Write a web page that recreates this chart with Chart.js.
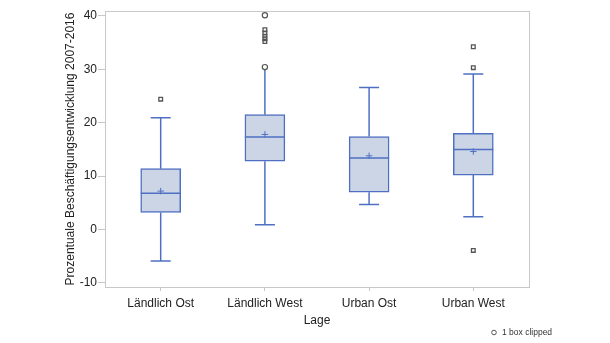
<!DOCTYPE html>
<html><head><meta charset="utf-8">
<script src="https://cdn.jsdelivr.net/npm/chart.js@4.4.1/dist/chart.umd.min.js"></script>
<style>html,body{margin:0;padding:0;background:#fff}#wrap{width:610px;height:343px}</style>
</head><body><div id="wrap"><canvas id="c" width="610" height="343"></canvas></div>
<script>
const categories = ['Ländlich Ost', 'Ländlich West', 'Urban Ost', 'Urban West'];
const q1 = [3.2, 12.8, 7.0, 10.2];
const median = [6.8, 17.3, 13.4, 15.0];
const q3 = [11.4, 21.5, 17.4, 18.0];
const mean = [7.2, 17.8, 13.8, 14.6];
const whiskerLow = [-5.9, 0.9, 4.7, 2.4];
const whiskerHigh = [20.9, 30.4, 26.6, 29.1];
const clippedHigh = [false, true, false, false];
const outliers = [[24.4], [37.4, 36.8, 36.2, 35.7, 35.2], [], [34.2, 30.3, -3.9]];
const farOutliers = [[], [40.1, 30.4], [], []];
const yTicks = [-10, 0, 10, 20, 30, 40];
const yTitle = 'Prozentuale Beschäftigungsentwicklung 2007-2016';
const xTitle = 'Lage';
const noteText = '1 box clipped';

const BLUE = '#4f70c2';
const FILL = '#cbd5e6';
const GREY = '#555555';
const HALF_BOX = 0.192;
const HALF_CAP = 0.096;
const FONT = '"Liberation Sans", Arial, sans-serif';

const boxData = categories.map((c, i) => ({x: i + 1, y: [q1[i], q3[i]]}));
const whiskers = [];
const caps = [];
const medians = [];
categories.forEach((c, i) => {
  const x = i + 1;
  whiskers.push({x, y: q3[i]}, {x, y: whiskerHigh[i]}, {x, y: null});
  whiskers.push({x, y: q1[i]}, {x, y: whiskerLow[i]}, {x, y: null});
  if (!clippedHigh[i]) caps.push({x: x - HALF_CAP, y: whiskerHigh[i]}, {x: x + HALF_CAP, y: whiskerHigh[i]}, {x, y: null});
  caps.push({x: x - HALF_CAP, y: whiskerLow[i]}, {x: x + HALF_CAP, y: whiskerLow[i]}, {x, y: null});
  medians.push({x: x - HALF_BOX, y: median[i]}, {x: x + HALF_BOX, y: median[i]}, {x, y: null});
});
const meanPts = mean.map((v, i) => ({x: i + 1, y: v}));
const outPts = [];
outliers.forEach((arr, i) => arr.forEach(v => outPts.push({x: i + 1, y: v})));
const farPts = [];
farOutliers.forEach((arr, i) => arr.forEach(v => farPts.push({x: i + 1, y: v})));

const framePlugin = {
  id: 'frame',
  afterDraw(chart) {
    const {ctx, chartArea: a} = chart;
    ctx.save();
    ctx.strokeStyle = '#c8c8c8';
    ctx.lineWidth = 1;
    ctx.strokeRect(Math.round(a.left) + 0.5, Math.round(a.top) + 0.5, Math.round(a.right - a.left), Math.round(a.bottom - a.top));
    ctx.strokeStyle = GREY;
    ctx.lineWidth = 1;
    ctx.beginPath();
    ctx.arc(494, 332.5, 2.3, 0, Math.PI * 2);
    ctx.stroke();
    ctx.fillStyle = '#333';
    ctx.font = '8.5px ' + FONT;
    ctx.textBaseline = 'middle';
    ctx.fillText(noteText, 502, 333);
    ctx.restore();
  }
};

new Chart(document.getElementById('c'), {
  type: 'bar',
  data: {
    datasets: [
      {type: 'scatter', data: whiskers, showLine: true, borderColor: BLUE, borderWidth: 1.5, pointRadius: 0, spanGaps: false, order: 2},
      {type: 'scatter', data: caps, showLine: true, borderColor: BLUE, borderWidth: 1.5, pointRadius: 0, spanGaps: false, order: 2},
      {type: 'bar', data: boxData, backgroundColor: FILL, borderColor: BLUE, borderWidth: 1.5, borderSkipped: false, barThickness: 40, order: 1},
      {type: 'scatter', data: medians, showLine: true, borderColor: BLUE, borderWidth: 1.5, pointRadius: 0, spanGaps: false, order: 0},
      {type: 'scatter', data: meanPts, pointStyle: 'cross', pointRadius: 3.2, borderColor: BLUE, borderWidth: 1, order: 0},
      {type: 'scatter', data: outPts, pointStyle: 'rect', pointRadius: 2.6, borderColor: GREY, backgroundColor: 'rgba(0,0,0,0)', borderWidth: 1.3, order: 0},
      {type: 'scatter', data: farPts, pointStyle: 'circle', pointRadius: 2.6, borderColor: GREY, backgroundColor: '#fff', borderWidth: 1.2, order: 0}
    ]
  },
  options: {
    responsive: false,
    animation: false,
    layout: {padding: {top: 11, right: 81, left: 63, bottom: 15}},
    plugins: {legend: {display: false}, tooltip: {enabled: false}},
    scales: {
      x: {
        type: 'linear', min: 0.4655, max: 4.5345, offset: false,
        afterBuildTicks: s => { s.ticks = categories.map((c, i) => ({value: i + 1})); },
        afterFit: s => { s.height = 41; },
        grid: {drawOnChartArea: false, drawTicks: true, tickLength: 4, color: '#c8c8c8', offset: false},
        border: {display: false},
        ticks: {callback: (v, i) => categories[i], color: '#222', font: {family: FONT, size: 12}, padding: 5, maxRotation: 0, autoSkip: false},
        title: {display: true, text: xTitle, color: '#222', font: {family: FONT, size: 12}, padding: {top: 0, bottom: 0}}
      },
      y: {
        type: 'linear', min: -10.75, max: 40.9,
        afterBuildTicks: s => { s.ticks = yTicks.map(v => ({value: v})); },
        afterFit: s => { s.width = 42; },
        grid: {drawOnChartArea: false, drawTicks: true, tickLength: 7, color: '#c8c8c8'},
        border: {display: false},
        ticks: {color: '#222', font: {family: FONT, size: 12}, padding: 1},
        title: {display: true, text: yTitle, color: '#222', font: {family: FONT, size: 12}, padding: {top: 0, bottom: 0}}
      }
    }
  },
  plugins: [framePlugin]
});
</script></body></html>
